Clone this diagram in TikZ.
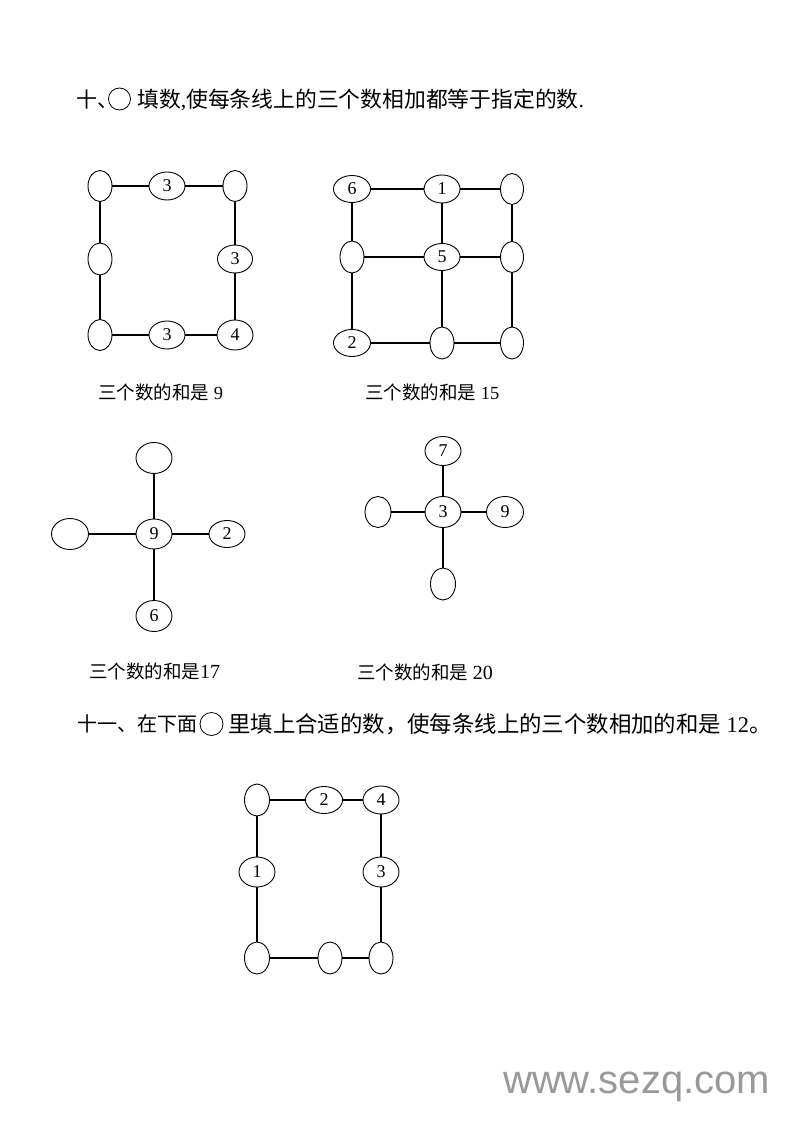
\documentclass[tikz,border=0pt]{standalone}
\usepackage{fontspec}
\setmainfont{Liberation Serif}
\newfontfamily\cjk{Noto Sans CJK SC}
\newfontfamily\wmfont{Liberation Sans}
\usetikzlibrary{shapes.geometric}
\begin{document}
\begin{tikzpicture}[x=1pt,y=-1pt,
  ov/.style n args={2}{ellipse,draw,line width=0.9pt,fill=white,inner sep=0pt,
    minimum width=#1pt,minimum height=#2pt,font=\fontsize{18}{18}\selectfont},
  ln/.style={line width=1.4pt},
  lab/.style={anchor=west,inner sep=0pt,font=\fontsize{18.5}{20}\selectfont},
  head/.style={anchor=west,inner sep=0pt},
  hcirc/.style={circle,draw,line width=0.8pt,inner sep=0pt,minimum size=#1pt},
]
\fill[white] (0,0) rectangle (800,1132);
\useasboundingbox (0,0) rectangle (800,1132);

% ---------- heading 1
\node[head,font=\fontsize{21}{21}\selectfont\cjk] (h1a) at (76,100) {十、};
\node[hcirc=22] (h1c) at (119.5,99) {};
\node[head,font=\fontsize{21.8}{22}\selectfont] (h1b) at (137,100)
  {{\cjk 填数},{\cjk 使每条线上的三个数相加都等于指定的数}.};

% ---------- diagram 1 (sum 9)
\node[ov={24}{31}] (a1) at (100,186) {};
\node[ov={36}{28}] (a2) at (167,186) {3};
\node[ov={24}{31}] (a3) at (235,186) {};
\node[ov={24}{32}] (a4) at (100,259) {};
\node[ov={35}{28}] (a5) at (235,259) {3};
\node[ov={24}{31}] (a6) at (100,335) {};
\node[ov={36}{28}] (a7) at (167,335) {3};
\node[ov={36}{30}] (a8) at (235,335) {4};
\draw[ln] (a1) -- (a2); \draw[ln] (a2) -- (a3);
\draw[ln] (a1) -- (a4); \draw[ln] (a4) -- (a6);
\draw[ln] (a3) -- (a5); \draw[ln] (a5) -- (a8);
\draw[ln] (a6) -- (a7); \draw[ln] (a7) -- (a8);
\node[lab] (l1) at (98,392) {{\cjk 三个数的和是} 9};

% ---------- diagram 2 (sum 15)
\node[ov={37}{27}] (b1) at (352,189) {6};
\node[ov={36}{28}] (b2) at (442,189) {1};
\node[ov={23}{31}] (b3) at (512,189) {};
\node[ov={24}{32}] (b4) at (352,257) {};
\node[ov={36}{27}] (b5) at (442,257) {5};
\node[ov={23}{31}] (b6) at (512,257) {};
\node[ov={37}{27}] (b7) at (352,343) {2};
\node[ov={24}{32}] (b8) at (442,343) {};
\node[ov={23}{32}] (b9) at (512,343) {};
\draw[ln] (b1) -- (b2); \draw[ln] (b2) -- (b3);
\draw[ln] (b4) -- (b5); \draw[ln] (b5) -- (b6);
\draw[ln] (b7) -- (b8); \draw[ln] (b8) -- (b9);
\draw[ln] (b1) -- (b4); \draw[ln] (b4) -- (b7);
\draw[ln] (b2) -- (b5); \draw[ln] (b5) -- (b8);
\draw[ln] (b3) -- (b6); \draw[ln] (b6) -- (b9);
\node[lab] (l2) at (365,392) {{\cjk 三个数的和是} 15};

% ---------- diagram 3 (sum 17)
\node[ov={36}{30}] (c0) at (154,534) {9};
\node[ov={36}{31}] (c1) at (154,458) {};
\node[ov={37}{31}] (c2) at (70,534) {};
\node[ov={36}{27}] (c3) at (227,534) {2};
\node[ov={36}{31}] (c4) at (154,616) {6};
\draw[ln] (c0) -- (c1); \draw[ln] (c0) -- (c2);
\draw[ln] (c0) -- (c3); \draw[ln] (c0) -- (c4);
\node[lab] (l3) at (89,671) {{\cjk 三个数的和是}{\fontsize{20}{20}\selectfont 17}};

% ---------- diagram 4 (sum 20)
\node[ov={36}{31}] (d0) at (443,512) {3};
\node[ov={36}{29}] (d1) at (443,451) {7};
\node[ov={26}{31}] (d2) at (378,512) {};
\node[ov={37}{31}] (d3) at (505,512) {9};
\node[ov={25}{32}] (d4) at (443,584) {};
\draw[ln] (d0) -- (d1); \draw[ln] (d0) -- (d2);
\draw[ln] (d0) -- (d3); \draw[ln] (d0) -- (d4);
\node[lab] (l4) at (357,672) {{\cjk 三个数的和是} {\fontsize{20}{20}\selectfont 20}};

% ---------- heading 2
\node[head,font=\fontsize{20}{20}\selectfont\cjk] (h2a) at (77,724) {十一、在下面};
\node[hcirc=23] (h2c) at (211.5,724) {};
\node[head,font=\fontsize{22.4}{23}\selectfont] (h2b) at (228,724)
  {{\cjk 里填上合适的数，使每条线上的三个数相加的和是} 12{\cjk 。}};

% ---------- diagram 5 (sum 12)
\node[ov={25}{32}] (e1) at (257,800) {};
\node[ov={37}{27}] (e2) at (324,800) {2};
\node[ov={36}{28}] (e3) at (381,800) {4};
\node[ov={36}{30}] (e4) at (257,872) {1};
\node[ov={36}{30}] (e5) at (381,872) {3};
\node[ov={25}{32}] (e6) at (257,958) {};
\node[ov={24}{32}] (e7) at (330,958) {};
\node[ov={24}{32}] (e8) at (381,958) {};
\draw[ln] (e1) -- (e2); \draw[ln] (e2) -- (e3);
\draw[ln] (e1) -- (e4); \draw[ln] (e4) -- (e6);
\draw[ln] (e3) -- (e5); \draw[ln] (e5) -- (e8);
\draw[ln] (e6) -- (e7); \draw[ln] (e7) -- (e8);

% ---------- watermark
\node[anchor=base west,inner sep=0pt,font=\fontsize{40}{40}\selectfont\wmfont,text=black!40]
  (wm) at (503,1093) {www.sezq.com};
\end{tikzpicture}
\end{document}
